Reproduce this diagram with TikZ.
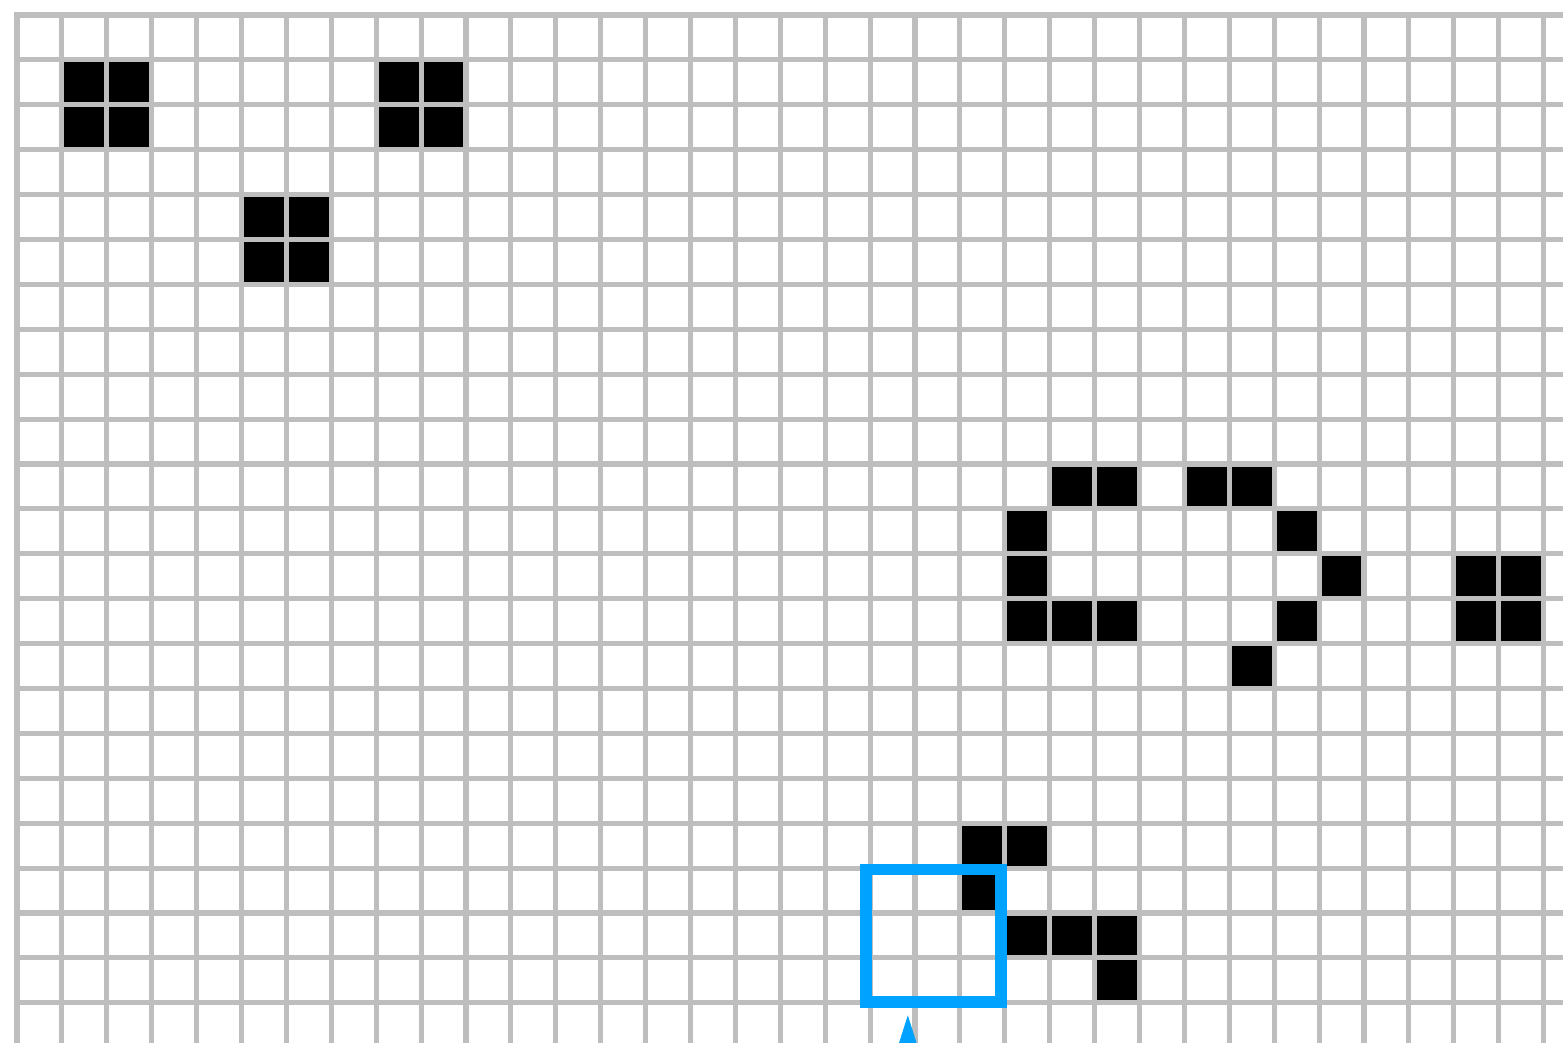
\documentclass[tikz,border=0pt]{standalone}
\usetikzlibrary{arrows.meta}
\definecolor{gridgray}{RGB}{190,190,190}
\definecolor{probeblue}{RGB}{0,162,255}

\begin{document}
\begin{tikzpicture}[
    gridline/.style={draw=gridgray, line width=3.2pt, line cap=rect},
    livecell/.style={fill=black},
    probebox/.style={draw=probeblue, line width=7.3pt, inner sep=0pt, minimum width=3.01cm, minimum height=2.95cm},
    pointer/.style={draw=probeblue, fill=probeblue, line width=3pt, -{Triangle[length=1cm, width=0.6cm]}}
]
        % Frame
        \clip (-0.3786,0.334) rectangle (34.432,-22.895);
        \fill[white] (-0.3786,0.334) rectangle (34.432,-22.895);

        % Draw cells
        \foreach \c/\r in {1/1, 2/1, 1/2, 2/2, 8/1, 9/1, 8/2, 9/2, 5/4, 6/4, 5/5, 6/5,
                23/10, 24/10, 26/10, 27/10, 22/11, 28/11, 22/12, 29/12, 32/12, 33/12,
                22/13, 23/13, 24/13, 28/13, 32/13, 33/13, 27/14,
                21/18, 22/18, 21/19, 22/20, 23/20, 24/20, 24/21}
            \fill[livecell] (\c,-\r) rectangle ++(1,-1);

        % Draw grid
        \draw[gridline] (0,0) grid (35,-23);

        % Probe
        \node[probebox] (probe) at (20.415,-20.505) {};
        \coordinate (src) at (19.84,-25);

        % Draw connections
        \draw[pointer, shorten >=0.16cm] (src) -- (src |- probe.south);
\end{tikzpicture}
\end{document}
